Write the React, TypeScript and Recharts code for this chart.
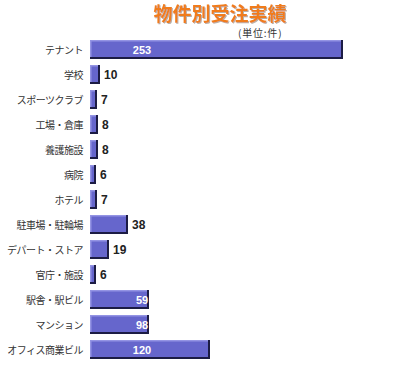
import { BarChart, Bar, XAxis, YAxis, LabelList } from "recharts";

// categories, top to bottom
const categories = [
  "テナント",
  "学校",
  "スポーツクラブ",
  "工場・倉庫",
  "養護施設",
  "病院",
  "ホテル",
  "駐車場・駐輪場",
  "デパート・ストア",
  "官庁・施設",
  "駅舎・駅ビル",
  "マンション",
  "オフィス商業ビル",
];

// numbers printed on the bars
const counts = [253, 10, 7, 8, 8, 6, 7, 38, 19, 6, 59, 98, 120];

// bar lengths as drawn in the original (the 98 bar is drawn as short as the 59 one)
const drawnLengths = [253, 10, 7, 8, 8, 6, 7, 38, 19, 6, 59, 59, 120];

const data = categories.map((name, i) => ({
  name,
  count: counts[i],
  length: drawnLengths[i],
}));

const jpFont = '"Noto Sans CJK JP", "Noto Sans", sans-serif';
const numFont = '"Liberation Sans", Arial, sans-serif';

// bevelled bar like the old gif
const BevelBar = (props: any) => {
  const { x, y, width, height } = props;
  if (!width || width <= 0) return null;
  return (
    <g>
      <rect x={x} y={y} width={width} height={height} fill="#6666cc" />
      <rect x={x} y={y} width={width} height={1.5} fill="#9494e4" />
      <rect x={x} y={y} width={1.5} height={height} fill="#9494e4" />
      <rect x={x} y={y + height - 2} width={width} height={2} fill="#1c1c44" />
      <rect x={x + width - 2} y={y} width={2} height={height} fill="#1c1c44" />
    </g>
  );
};

const ValueLabel = (props: any) => {
  const { x, y, width, height, index } = props;
  const text = counts[index];
  const inside = width > 50;
  return (
    <text
      x={inside ? x + 52 : x + width + 4}
      y={y + height / 2}
      dy={4}
      textAnchor={inside ? "middle" : "start"}
      fill={inside ? "#ffffff" : "#222222"}
      fontFamily={numFont}
      fontWeight="bold"
      fontSize={inside ? 11 : 12}
    >
      {text}
    </text>
  );
};

const CategoryTick = (props: any) => {
  const { x, y, payload } = props;
  return (
    <text
      x={x + 1}
      y={y}
      dy={4}
      textAnchor="end"
      fill="#333333"
      fontFamily={jpFont}
      fontSize={10}
      letterSpacing={-0.5}
    >
      {payload.value}
    </text>
  );
};

export default function App() {
  return (
    <div style={{ position: "absolute", left: 0, top: 0, width: 400, height: 380, background: "#fff" }}>
      <BarChart
        width={400}
        height={380}
        data={data}
        layout="vertical"
        margin={{ top: 37, right: 10, bottom: 18, left: 0 }}
        barCategoryGap={3}
      >
        <XAxis type="number" domain={[0, 300]} hide />
        <YAxis
          type="category"
          dataKey="name"
          width={90}
          axisLine={false}
          tickLine={false}
          tick={<CategoryTick />}
          interval={0}
        />
        <Bar dataKey="length" barSize={19} shape={<BevelBar />} isAnimationActive={false}>
          <LabelList dataKey="count" content={<ValueLabel />} />
        </Bar>
      </BarChart>
      <svg width={400} height={40} style={{ position: "absolute", left: 0, top: 0, zIndex: 2 }}>
        <defs>
          <filter id="titleShadow" x="-5%" y="-20%" width="110%" height="140%">
            <feDropShadow dx={1} dy={1} stdDeviation={0} floodColor="#b8b0a8" />
          </filter>
        </defs>
        <text
          x={220}
          y={21}
          textAnchor="middle"
          fontFamily={jpFont}
          fontWeight="bold"
          fontSize={19}
          fill="#f07c1c"
          filter="url(#titleShadow)"
        >
          物件別受注実績
        </text>
        <text x={238} y={37} fontFamily={jpFont} fontSize={10} letterSpacing={0.8} fill="#333">
          (単位:件)
        </text>
      </svg>
    </div>
  );
}
